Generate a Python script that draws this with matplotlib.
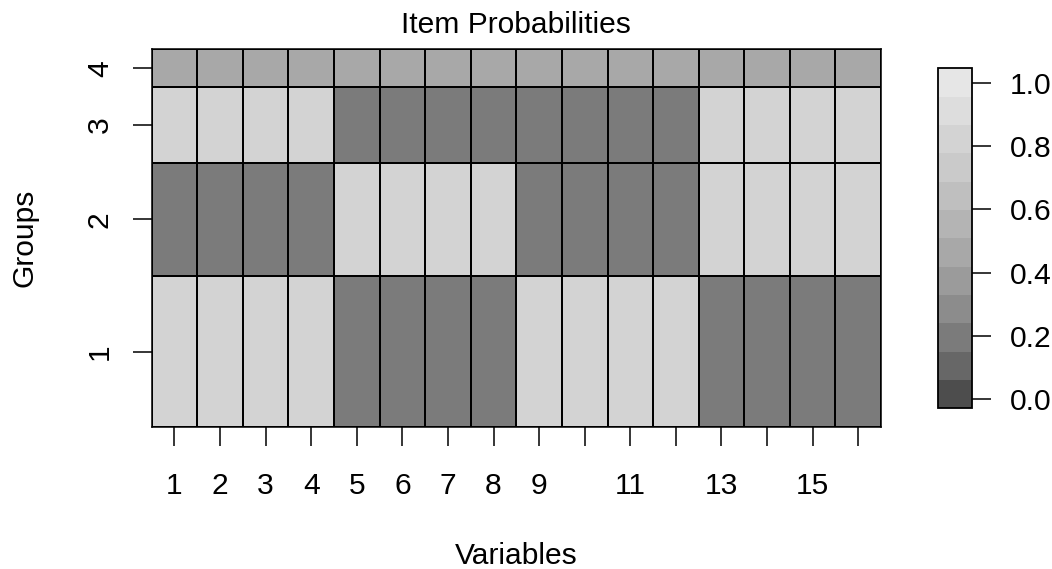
import numpy as np
import matplotlib
matplotlib.use("Agg")
import matplotlib.pyplot as plt
from matplotlib.colors import ListedColormap, BoundaryNorm

plt.rcParams['font.family'] = ['Liberation Sans', 'DejaVu Sans']

# class weights (row heights) and item probabilities per group
weights = [0.40, 0.30, 0.20, 0.10]
group_labels = ["1", "2", "3", "4"]
g1 = [0.8, 0.8, 0.8, 0.8, 0.2, 0.2, 0.2, 0.2, 0.8, 0.8, 0.8, 0.8, 0.2, 0.2, 0.2, 0.2]
g2 = [0.2, 0.2, 0.2, 0.2, 0.8, 0.8, 0.8, 0.8, 0.2, 0.2, 0.2, 0.2, 0.8, 0.8, 0.8, 0.8]
g3 = [0.8, 0.8, 0.8, 0.8, 0.2, 0.2, 0.2, 0.2, 0.2, 0.2, 0.2, 0.2, 0.8, 0.8, 0.8, 0.8]
g4 = [0.5] * 16
var_labels = ["1", "2", "3", "4", "5", "6", "7", "8", "9", "", "11", "", "13", "", "15", ""]
cbar_ticks = [0.0, 0.2, 0.4, 0.6, 0.8, 1.0]

probs = np.array([g1, g2, g3, g4])
nvar = probs.shape[1]
FS = 21.6

# 12-level grey scale, gamma corrected like R's gray.colors
nlev = 12
lv = np.linspace(0.3 ** 2.2, 0.9 ** 2.2, nlev) ** (1 / 2.2)
cmap = ListedColormap([(v, v, v) for v in lv])
zmin, zmax = -0.0285, 1.045
bounds = np.linspace(zmin, zmax, nlev + 1)
norm = BoundaryNorm(bounds, nlev)

W, H = 1052, 569
fig = plt.figure(figsize=(W / 100, H / 100), dpi=100)
ax = fig.add_axes([151.7 / W, (H - 427.3) / H, (881 - 151.7) / W, 378 / H])

xe = np.arange(nvar + 1) + 0.5
ye = np.concatenate([[0], np.cumsum(weights)])
ax.pcolormesh(xe, ye, probs, cmap=cmap, norm=norm, edgecolors="black", linewidth=1.1)
ax.set_xlim(0.5, nvar + 0.5)
ax.set_ylim(0, ye[-1])

ax.set_xticks(np.arange(1, nvar + 1))
ax.set_xticklabels(var_labels)
ax.set_yticks((ye[:-1] + ye[1:]) / 2)
ax.set_yticklabels(group_labels, rotation=90, va="center")
ax.tick_params(axis="both", length=13.7, width=1.1, labelsize=FS, direction="out")
ax.tick_params(axis="x", pad=18.5)
ax.tick_params(axis="y", pad=13.5)
for s in ax.spines.values():
    s.set_linewidth(1.1)

fig.text(516 / W, 1 - 33 / H, "Item Probabilities", fontsize=FS, ha="center", va="baseline")
fig.text(516 / W, 1 - 556 / H, "Variables", fontsize=FS, ha="center", va="center")
fig.text(24 / W, 1 - 238 / H, "Groups", fontsize=FS, ha="center", va="center", rotation=90)

# colour legend
cax = fig.add_axes([938.3 / W, (H - 408.3) / H, 34 / W, 340 / H])
cb = fig.colorbar(matplotlib.cm.ScalarMappable(norm=norm, cmap=cmap), cax=cax,
                  boundaries=bounds)
cb.minorticks_off()
cb.set_ticks(cbar_ticks)
cb.set_ticklabels([f"{t:.1f}" for t in cbar_ticks])
cb.ax.tick_params(length=14, width=1.1, labelsize=FS, pad=13)
cb.outline.set_linewidth(1.3)
cax.set_ylim(zmin, zmax)

fig.savefig("out.png", dpi=100)
